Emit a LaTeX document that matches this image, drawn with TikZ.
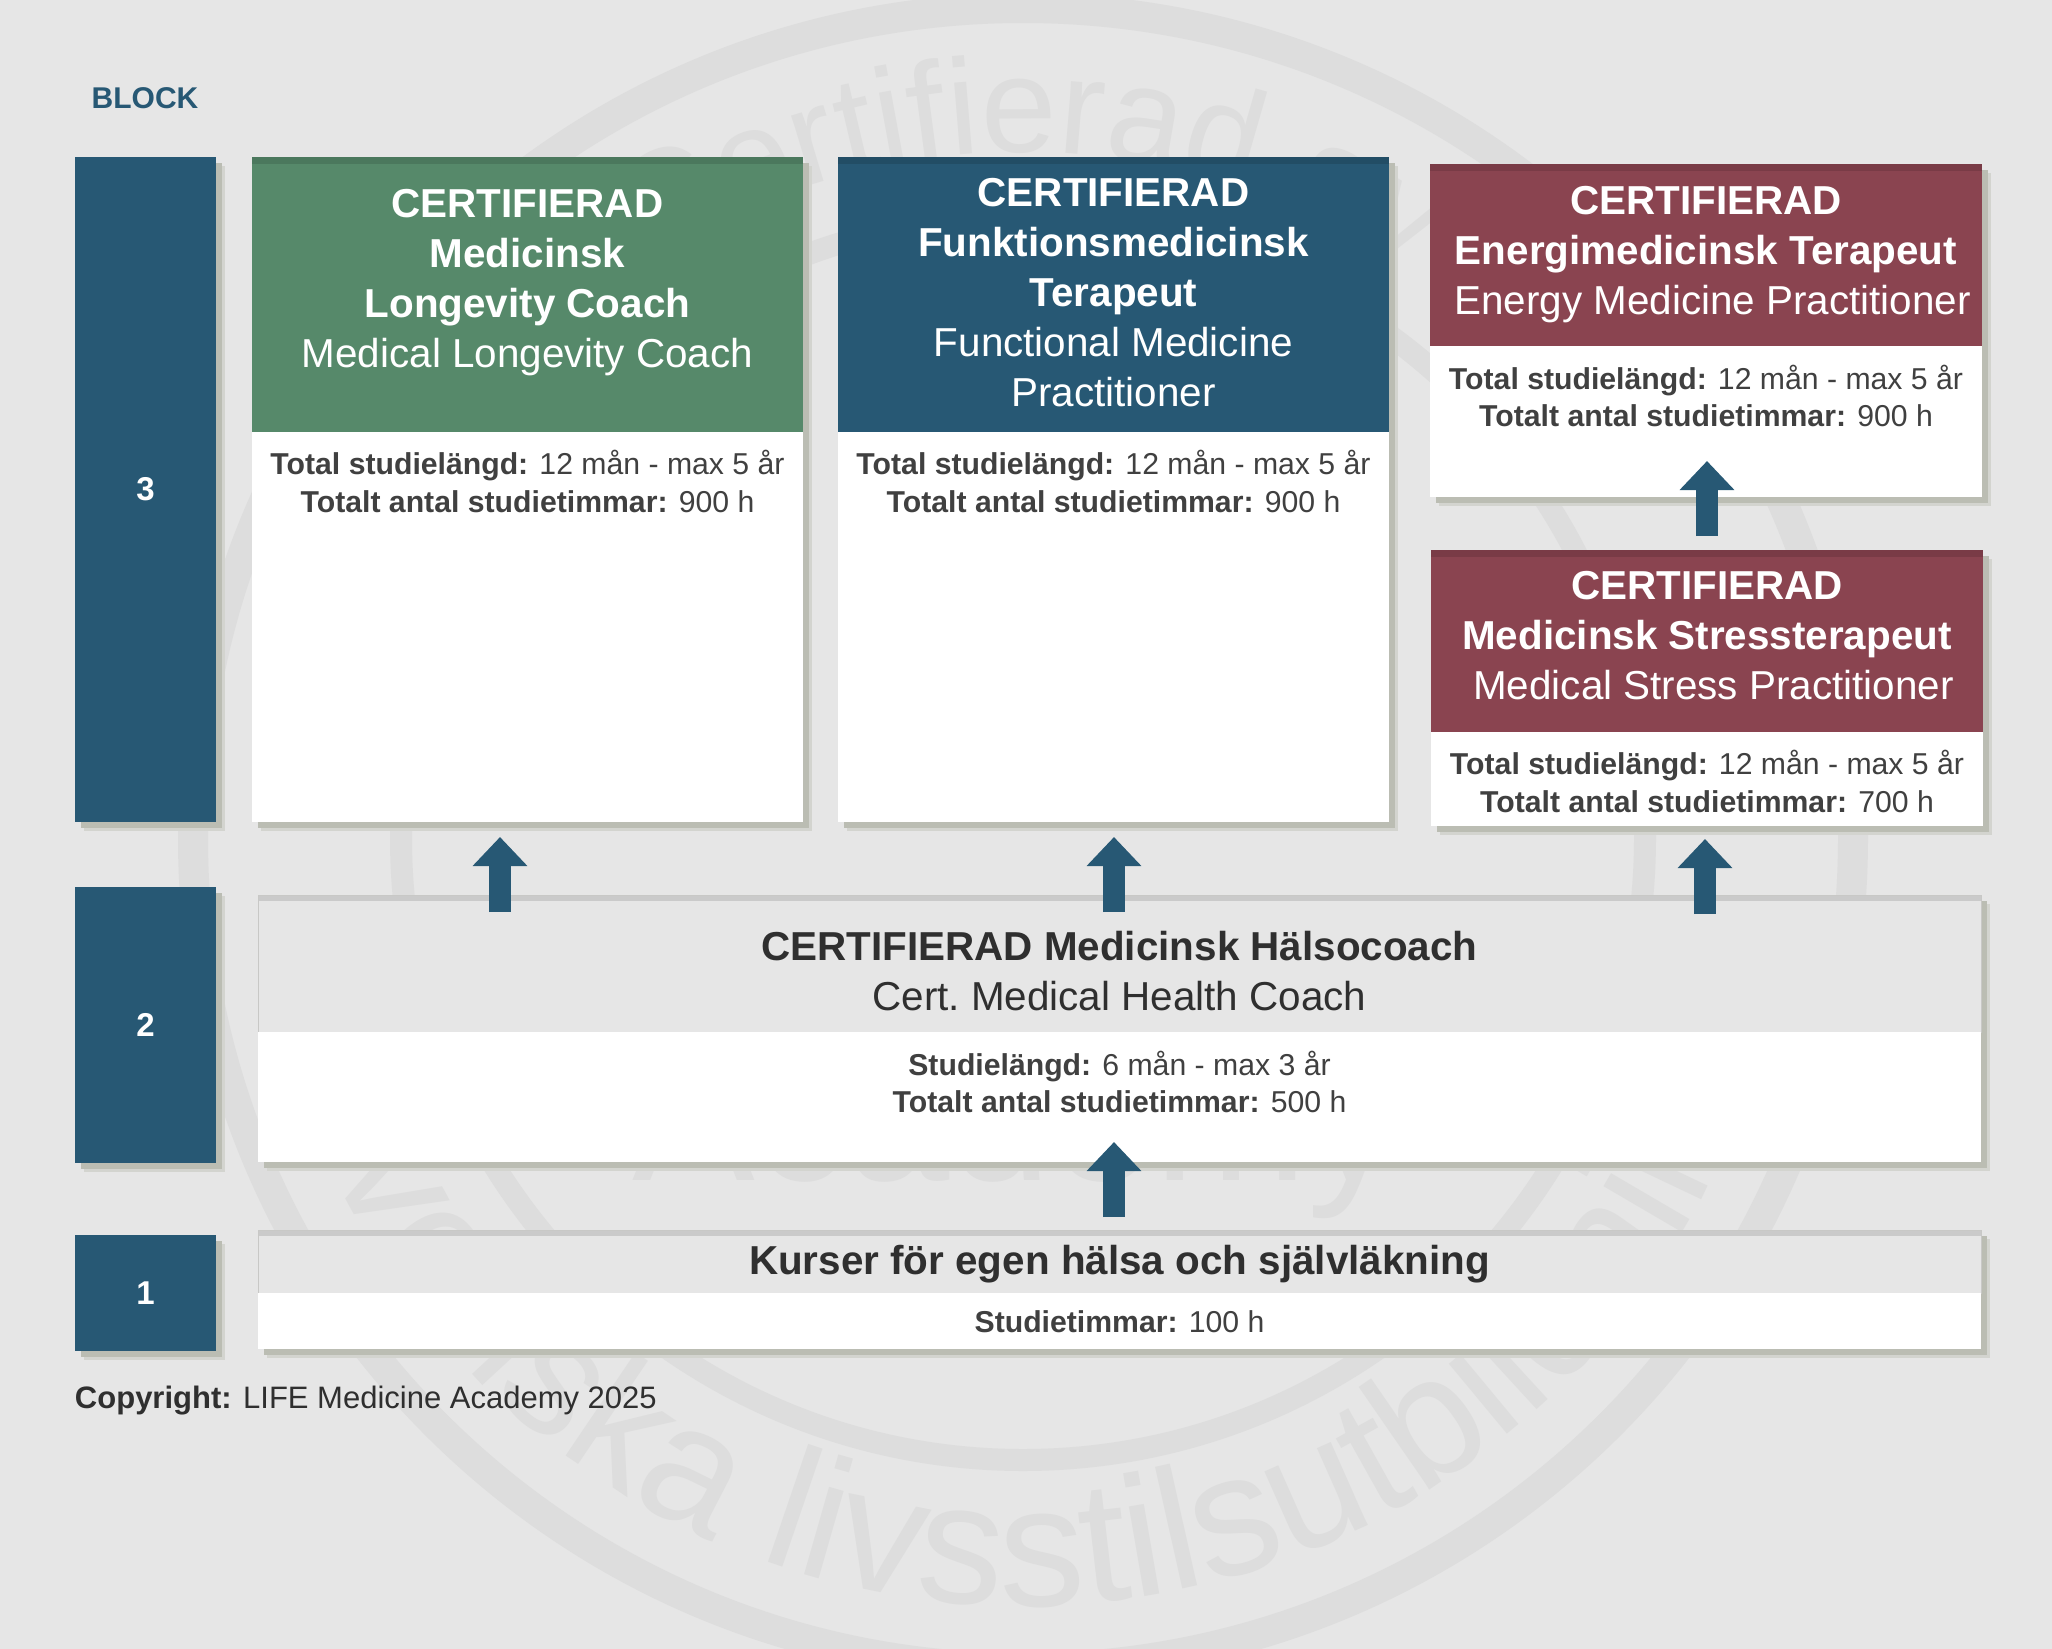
\documentclass[tikz,border=0pt]{standalone}
\usepackage{fontspec}
\setmainfont{Liberation Sans}
\usetikzlibrary{arrows.meta,positioning,calc,shadows,decorations.text}
\definecolor{pagegray}{RGB}{230,230,230}
\definecolor{markgray}{RGB}{221,221,221}
\definecolor{shadegray}{RGB}{187,189,179}
\definecolor{edgegray}{RGB}{200,200,198}
\definecolor{petrol}{RGB}{39,88,116}
\definecolor{leaf}{RGB}{86,137,106}
\definecolor{wine}{RGB}{138,68,80}
\definecolor{inktext}{RGB}{64,64,64}
\definecolor{darktext}{RGB}{47,47,47}
\newcommand{\bigtype}{\fontsize{20.2}{25}\selectfont}
\newcommand{\infotype}{\fontsize{15.1}{18.6}\selectfont}

\begin{document}
\begin{tikzpicture}[x=.5pt,y=.5pt,>=Latex,node distance=0pt,
  every node/.style={inner sep=0pt,outer sep=0pt,align=center},
  softshade/.style={general shadow={shadow xshift=4.5pt,shadow yshift=-4.5pt,fill=shadegray!45!pagegray},
    general shadow={shadow xshift=3pt,shadow yshift=-3pt,fill=shadegray}},
  topstrip/.style={path picture={\fill[black,opacity=.12] (path picture bounding box.north west) rectangle ([yshift=-#1]path picture bounding box.north east);}},
  barbox/.style={softshade,fill=petrol,text=white,font=\bfseries\fontsize{16.5}{20}\selectfont,anchor=north west,minimum width=70.5pt},
  cardhead/.style={softshade,topstrip=3.5pt,anchor=north west,minimum width=275.5pt,minimum height=137.5pt},
  redhead/.style={softshade,topstrip=3.5pt,fill=wine,anchor=north west,minimum width=276pt,minimum height=91pt},
  planhead/.style={softshade,topstrip=3pt,fill=pagegray,draw=edgegray,anchor=north west,minimum width=861.5pt},
  cardbody/.style={softshade,fill=white,minimum width=275.5pt},
  planbody/.style={softshade,fill=white,minimum width=861.5pt},
  titletext/.style={text=white,font=\bigtype},
  plantext/.style={text=darktext,font=\bigtype},
  infotext/.style={text=inktext,font=\infotype},
  stepup/.style={petrol,line width=11pt,-{Triangle[length=14.5pt,width=26.5pt]}},
  ringline/.style={draw=markgray}]

\useasboundingbox (0,0) rectangle (2052,-1649);
\clip (0,0) rectangle (2052,-1649);
\fill[pagegray] (0,0) rectangle (2052,-1649);

\coordinate (markmid) at (1023,-838);
\draw[ringline,line width=15pt] (markmid) circle (830);
\draw[ringline,line width=11pt] (markmid) circle (622);
\path[decorate,decoration={text along path,text align={left,left indent=20pt},
  text={|\fontsize{68}{68}\selectfont\color{markgray}|Certifierad av}}]
  ($(markmid)+(126.5:686)$) arc (126.5:40:686);
\path[decorate,decoration={text along path,
  text={|\fontsize{86}{86}\selectfont\color{markgray}|Svenska livsstilsutbildning}}]
  ($(markmid)+(197:768)$) arc (197:375:768);
\node[text=markgray,font=\fontsize{92}{92}\selectfont,anchor=base] (markword) at (1016,-1180) {Academy};

\node[text=petrol,font=\bfseries\fontsize{15}{18}\selectfont,anchor=center] (blocklabel) at (145,-98) {BLOCK};
\node[barbox,minimum height=332.5pt] (bar3) at (75,-157) {3};
\node[barbox,minimum height=138pt] (bar2) at (75,-887) {2};
\node[barbox,minimum height=58pt] (bar1) at (75,-1235) {1};

\node[cardhead,fill=leaf] (greenhead) at (252,-157) {};
\node[cardbody,minimum height=195pt,below=of greenhead] (greenbody) {};
\node[titletext,below=16pt of greenhead.north] (greentitle) {\textbf{CERTIFIERAD}\\\textbf{Medicinsk}\\\textbf{Longevity Coach}\\Medical Longevity Coach};
\node[infotext,below=9.3pt of greenbody.north] (greeninfo) {\textbf{Total studielängd:} 12 mån - max 5 år\\\textbf{Totalt antal studietimmar:} 900 h};

\node[cardhead,fill=petrol] (bluehead) at (838,-157) {};
\node[cardbody,minimum height=195pt,below=of bluehead] (bluebody) {};
\node[titletext,below=10.8pt of bluehead.north] (bluetitle) {\textbf{CERTIFIERAD}\\\textbf{Funktionsmedicinsk}\\\textbf{Terapeut}\\Functional Medicine\\Practitioner};
\node[infotext,below=9.3pt of bluebody.north] (blueinfo) {\textbf{Total studielängd:} 12 mån - max 5 år\\\textbf{Totalt antal studietimmar:} 900 h};

\node[redhead] (energyhead) at (1430,-164) {};
\node[cardbody,minimum width=276pt,minimum height=75.5pt,below=of energyhead] (energybody) {};
\node[titletext,below=11pt of energyhead.north] (energytitle) {\textbf{CERTIFIERAD}\\\textbf{Energimedicinsk Terapeut}\\\hspace*{6.5pt}Energy Medicine Practitioner};
\node[infotext,below=9.5pt of energybody.north] (energyinfo) {\textbf{Total studielängd:} 12 mån - max 5 år\\\textbf{Totalt antal studietimmar:} 900 h};

\node[redhead] (stresshead) at (1431,-550) {};
\node[cardbody,minimum width=276pt,minimum height=47pt,below=of stresshead] (stressbody) {};
\node[titletext,below=10.5pt of stresshead.north] (stresstitle) {\textbf{CERTIFIERAD}\\\textbf{Medicinsk Stressterapeut}\\\hspace*{6.5pt}Medical Stress Practitioner};
\node[infotext,below=9.3pt of stressbody.north] (stressinfo) {\textbf{Total studielängd:} 12 mån - max 5 år\\\textbf{Totalt antal studietimmar:} 700 h};

\node[planhead,minimum height=68.5pt] (coachhead) at (258,-895) {};
\node[planbody,minimum height=65pt,below=of coachhead] (coachbody) {};
\node[plantext,below=18pt of coachhead.north] (coachtitle) {\textbf{CERTIFIERAD Medicinsk Hälsocoach}\\Cert.\ Medical Health Coach};
\node[infotext,below=9.5pt of coachbody.north] (coachinfo) {\textbf{Studielängd:} 6 mån - max 3 år\\\textbf{Totalt antal studietimmar:} 500 h};

\node[planhead,minimum height=31.5pt] (selfhead) at (258,-1230) {};
\node[planbody,minimum height=28pt,below=of selfhead] (selfbody) {};
\node[plantext,below=7.8pt of selfhead.north] (selftitle) {\textbf{Kurser för egen hälsa och självläkning}};
\node[infotext,below=8.6pt of selfbody.north] (selfinfo) {\textbf{Studietimmar:} 100 h};

\node[text=darktext,font=\fontsize{15.5}{18.6}\selectfont,anchor=west] (copyline) at (75,-1401) {\textbf{Copyright:} LIFE Medicine Academy 2025};

\coordinate (greenfoot) at (500,-912);
\coordinate (greentip) at (500,-837);
\coordinate (bluefoot) at (1114,-912);
\coordinate (bluetip) at (1114,-837);
\coordinate (stressfoot) at (1705,-914);
\coordinate (stresstip) at (1705,-839);
\coordinate (energyfoot) at (1707,-536);
\coordinate (energytip) at (1707,-461);
\coordinate (selffoot) at (1114,-1217);
\coordinate (selftip) at (1114,-1142);
\draw[stepup] (greenfoot) -- (greentip);
\draw[stepup] (bluefoot) -- (bluetip);
\draw[stepup] (stressfoot) -- (stresstip);
\draw[stepup] (energyfoot) -- (energytip);
\draw[stepup] (selffoot) -- (selftip);
\end{tikzpicture}
\end{document}
